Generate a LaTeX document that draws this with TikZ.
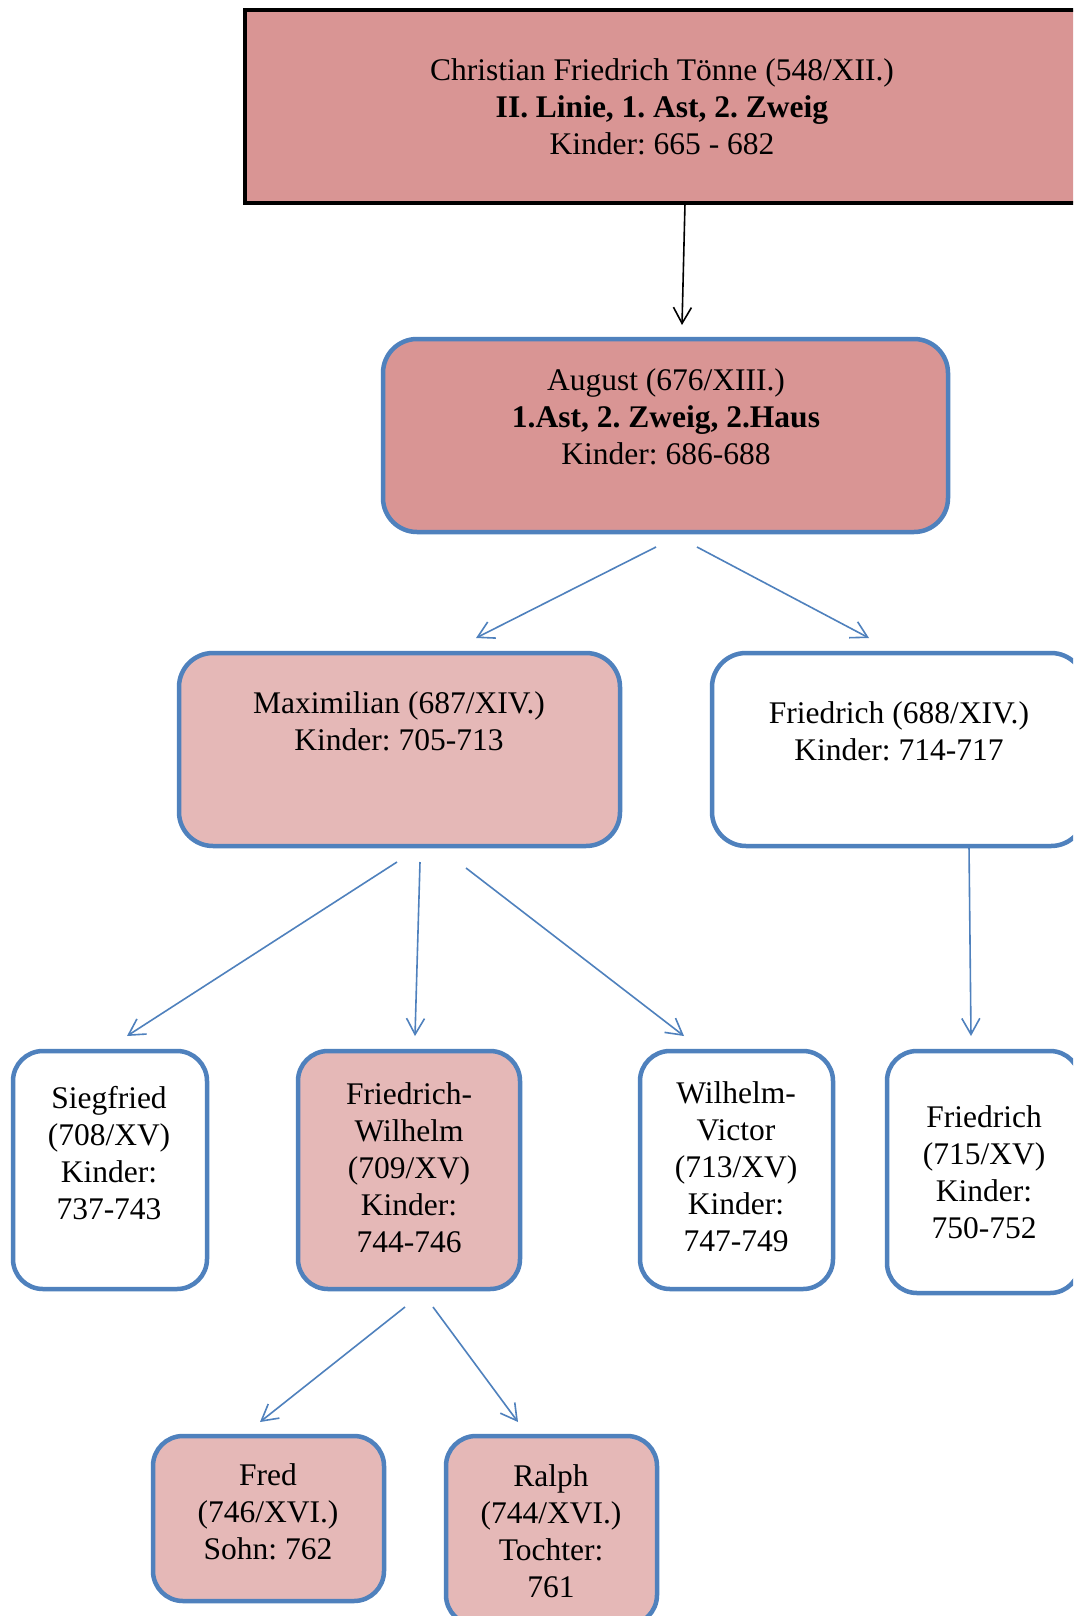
\documentclass[tikz,border=0pt]{standalone}
\usepackage{fontspec}
\setmainfont{Liberation Serif}
\usetikzlibrary{arrows.meta}
\definecolor{rosedark}{RGB}{217,149,148}
\definecolor{roselight}{RGB}{229,184,183}
\definecolor{frameblue}{RGB}{79,129,189}
\frenchspacing
\begin{document}
\begin{tikzpicture}[x=1pt,y=-1pt,
  box/.style={draw=frameblue, line width=4.5pt, rounded corners=#1, inner sep=0pt},
  box/.default=34pt,
  label/.style={align=center, inner sep=0pt, font=\fontsize{31.5}{37}\selectfont},
  link/.style={draw=frameblue, line width=1.6pt, -{Straight Barb[length=16pt,width=18pt,line width=1.6pt]}},
  blacklink/.style={draw=black, line width=1.6pt, -{Straight Barb[length=16pt,width=18pt,line width=1.6pt]}}]
\clip (0,0) rectangle (1073,1616);
\fill[white] (0,0) rectangle (1073,1616);

% boxes
\node[draw=black, line width=4.5pt, fill=rosedark, inner sep=0pt, minimum width=845pt, minimum height=193pt] (top) at (667.5,106.5) {};
\node[box, fill=rosedark, minimum width=565pt, minimum height=193pt] (aug) at (665.5,435.5) {};
\node[box, fill=roselight, minimum width=441pt, minimum height=193pt] (maxi) at (399.5,749.5) {};
\node[box, fill=white, minimum width=373pt, minimum height=193pt] (fr688) at (898.5,749.5) {};
\node[box=30pt, fill=white, minimum width=194pt, minimum height=238pt] (sieg) at (110,1170) {};
\node[box=30pt, fill=roselight, minimum width=222pt, minimum height=238pt] (fw) at (409,1170) {};
\node[box=30pt, fill=white, minimum width=193pt, minimum height=238pt] (wv) at (736.5,1170) {};
\node[box=30pt, fill=white, minimum width=193pt, minimum height=242pt] (f715) at (983.5,1172) {};
\node[box=30pt, fill=roselight, minimum width=231pt, minimum height=165pt] (fred) at (268.5,1518.5) {};
\node[box=30pt, fill=roselight, minimum width=211pt, minimum height=189pt] (ralph) at (551.5,1530.5) {};

% texts
\node[label] (ttop) at (662,107) {Christian Friedrich Tönne (548/XII.)\\\textbf{II. Linie, 1. Ast, 2. Zweig}\\Kinder: 665 - 682};
\node[label] (taug) at (666,417) {August (676/XIII.)\\\textbf{1.Ast, 2. Zweig, 2.Haus}\\Kinder: 686-688};
\node[label] (tmaxi) at (399,721.5) {Maximilian (687/XIV.)\\Kinder: 705-713};
\node[label] (tfr688) at (899,731.5) {Friedrich (688/XIV.)\\Kinder: 714-717};
\node[label] (tsieg) at (109,1153) {Siegfried\\(708/XV)\\Kinder:\\737-743};
\node[label] (tfw) at (409,1167.5) {Friedrich-\\Wilhelm\\(709/XV)\\Kinder:\\744-746};
\node[label] (twv) at (736,1166.5) {Wilhelm-\\Victor\\(713/XV)\\Kinder:\\747-749};
\node[label] (tf715) at (984,1172.5) {Friedrich\\(715/XV)\\Kinder:\\750-752};
\node[label] (tfred) at (268,1511.5) {Fred\\(746/XVI.)\\Sohn: 762};
\node[label] (tralph) at (551,1531) {Ralph\\(744/XVI.)\\Tochter:\\761};

% connector end points
\coordinate (c1a) at (685,203);  \coordinate (c1b) at (682,325);
\coordinate (c2a) at (656,547);  \coordinate (c2b) at (476,638);
\coordinate (c3a) at (697,547);  \coordinate (c3b) at (869,638);
\coordinate (c4a) at (397,862);  \coordinate (c4b) at (127,1036);
\coordinate (c5a) at (420,862);  \coordinate (c5b) at (415,1036);
\coordinate (c6a) at (466,868);  \coordinate (c6b) at (684,1036);
\coordinate (c7a) at (969,846);  \coordinate (c7b) at (971,1036);
\coordinate (c8a) at (405,1307); \coordinate (c8b) at (260,1422);
\coordinate (c9a) at (433,1307); \coordinate (c9b) at (518,1422);

% connectors
\draw[blacklink] (c1a) -- (c1b);
\draw[link] (c2a) -- (c2b);
\draw[link] (c3a) -- (c3b);
\draw[link] (c4a) -- (c4b);
\draw[link] (c5a) -- (c5b);
\draw[link] (c6a) -- (c6b);
\draw[link] (c7a) -- (c7b);
\draw[link] (c8a) -- (c8b);
\draw[link] (c9a) -- (c9b);
\end{tikzpicture}
\end{document}
